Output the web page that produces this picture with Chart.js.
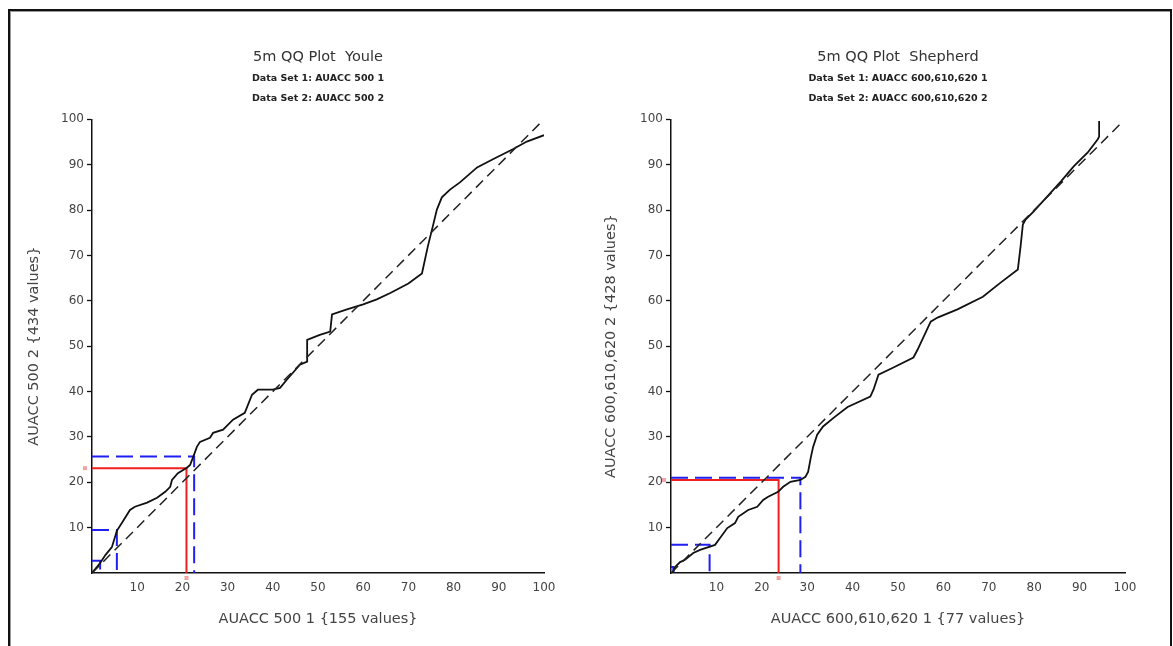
<!DOCTYPE html>
<html>
<head>
<meta charset="utf-8">
<script src="https://cdn.jsdelivr.net/npm/chart.js@4.4.1/dist/chart.umd.min.js"></script>
<style>
  body { margin: 0; background: #fff; }
  .frame { position: absolute; left: 8px; top: 9px; width: 1160px; height: 700px; border: 2px solid #111; box-shadow: inset 1px 1px 0 #999; }
  .plot { position: absolute; top: 0; }
</style>
</head>
<body>
<div class="frame"></div>
<canvas id="youle" class="plot" style="left:0" width="580" height="646"></canvas>
<canvas id="shepherd" class="plot" style="left:580px" width="593" height="646"></canvas>
<script>
const FONT = '"DejaVu Sans", Verdana, sans-serif';

// axis ticks
const tickValues = [10, 20, 30, 40, 50, 60, 70, 80, 90, 100];

// 1:1 reference line
const diagX = [0, 99];
const diagY = [0, 99];

// ── Youle ──
const youleX = [0, 0.8, 1.8, 3, 4.4, 5.5, 6.6, 8.4, 9.5, 12.2, 14.4, 16.2, 17.3, 17.7, 19, 21, 21.7, 22.4, 23.2, 23.9,
  26.1, 26.8, 29, 31.2, 33.8, 35.4, 36.7, 40, 41.6, 43.1, 46, 47.6, 47.6, 50.4, 52.7, 53.1, 56.4, 60, 63, 66, 70, 73,
  74.3, 75.4, 76.3, 77.4, 79.2, 81.4, 85.2, 88.7, 93.1, 96.2, 100];
const youleY = [0, 1, 2.2, 4, 5.7, 9.3, 11, 13.9, 14.6, 15.5, 16.6, 17.9, 19, 20.5, 22, 23.2, 23.8, 25.6, 27.8, 28.9,
  29.8, 30.9, 31.6, 33.8, 35.3, 39.3, 40.4, 40.4, 40.8, 42.6, 45.9, 46.6, 51.4, 52.5, 53.2, 57, 58.1, 59.2, 60.3, 61.7, 63.8, 66,
  72, 76.4, 80.1, 82.8, 84.5, 86.1, 89.4, 91.2, 93.4, 95.1, 96.5];
// percentile guides: [x, y] corners
const youleBlue = [[1.8, 2.7], [5.5, 9.5], [22.6, 25.7]];
const youleRed = [20.9, 23.1];

// ── Shepherd ──
const shepX = [0.4, 0.9, 2, 3.1, 4.9, 6.4, 9.7, 10.8, 12.4, 14.1, 14.8, 17, 19, 20.3, 21.4, 23.6, 24.7, 26.3, 28.5, 29.6,
  30.2, 30.8, 31.3, 32.2, 33.5, 35.8, 38.9, 43.9, 44.6, 45.7, 49, 53.4, 54.3, 57.2, 58.7, 63.1, 68.7, 72.6, 76.4, 77,
  77.5, 78.1, 79.9, 83.7, 85.9, 88.7, 91.8, 94, 94.3, 94.3];
const shepY = [0, 1.3, 2.4, 2.9, 4.4, 5.1, 6.2, 7.7, 9.9, 11, 12.4, 13.9, 14.6, 16.1, 16.8, 17.9, 19, 20.1, 20.5, 21.2,
  22.3, 25.5, 27.8, 30.5, 32.3, 34.2, 36.6, 38.9, 40.4, 43.7, 45.3, 47.5, 49.2, 55.4, 56.3, 58.1, 60.9, 64, 66.9, 72,
  76.8, 77.9, 79.7, 83.9, 86.3, 89.6, 92.7, 95.6, 96.2, 99.6];
const shepBlue = [[0.5, 1.3], [8.5, 6.2], [28.5, 21.0]];
const shepRed = [23.7, 20.5];

function pts(xs, ys) {
  return xs.map((x, i) => ({ x: x, y: ys[i] }));
}

function guide(c, color, dash) {
  // from the y axis across to the point, then down to the x axis
  return {
    data: [{ x: 0, y: c[1] }, { x: c[0], y: c[1] }, { x: c[0], y: 0 }],
    showLine: true, borderColor: color, borderWidth: 2, borderDash: dash,
    pointRadius: 0, tension: 0
  };
}

// small pink ticks just outside the axes where the red guide ends
const redMarks = {
  id: 'redMarks',
  afterDatasetsDraw(chart, args, opts) {
    const { ctx, scales: { x, y } } = chart;
    ctx.save();
    ctx.fillStyle = '#f3a3a3';
    ctx.fillRect(x.left - 9, y.getPixelForValue(opts.red[1]) - 2, 4, 4);
    ctx.fillRect(x.getPixelForValue(opts.red[0]) - 2, y.bottom + 3, 4, 4);
    ctx.restore();
  }
};

function qqChart(id, o) {
  const datasets = [
    { data: pts(diagX, diagY), showLine: true, borderColor: '#222', borderWidth: 1.5, borderDash: [10, 6], pointRadius: 0 },
    { data: pts(o.xs, o.ys), showLine: true, borderColor: '#111', borderWidth: 1.8, pointRadius: 0, tension: 0 }
  ];
  o.blue.forEach(c => datasets.push(guide(c, '#1f1ff2', [17, 7])));
  datasets.push(guide(o.red, '#f21f1f', []));

  const tickCb = v => (v === 0 ? null : v);
  new Chart(document.getElementById(id), {
    type: 'scatter',
    data: { datasets: datasets },
    plugins: [redMarks],
    options: {
      responsive: false,
      animation: false,
      layout: { padding: { left: 0, right: o.padRight, top: 0, bottom: 0 } },
      plugins: {
        legend: { display: false },
        tooltip: { enabled: false },
        redMarks: { red: o.red },
        title: {
          display: true, text: o.title, fullSize: false, color: '#333',
          font: { family: FONT, size: 14.5, weight: 'normal', lineHeight: 1.2 },
          padding: { top: 49, bottom: 0 }
        },
        subtitle: {
          display: true, text: o.sub, fullSize: false, color: '#222',
          font: { family: FONT, size: 9.5, weight: 'bold', lineHeight: 2.1 },
          padding: { top: 2, bottom: 11 }
        }
      },
      scales: {
        x: {
          type: 'linear', min: 0, max: 100,
          afterBuildTicks: s => { s.ticks = tickValues.map(v => ({ value: v })); },
          afterFit: s => { s.height = 73; },
          border: { color: '#111', width: 1.5 },
          grid: { drawOnChartArea: false, drawTicks: false },
          ticks: { callback: tickCb, color: '#444', padding: 8, font: { family: FONT, size: 12 } },
          title: { display: true, text: o.xTitle, color: '#444', font: { family: FONT, size: 14.5, lineHeight: 1.2 }, padding: { top: 0, bottom: 18 } }
        },
        y: {
          type: 'linear', min: 0, max: 100,
          afterBuildTicks: s => { s.ticks = tickValues.map(v => ({ value: v })); },
          afterFit: s => { s.width = o.yWidth; },
          border: { color: '#111', width: 1.5 },
          grid: { drawOnChartArea: false, drawTicks: true, tickLength: 5, color: '#111', tickWidth: 1.3 },
          ticks: { callback: tickCb, color: '#444', padding: 3, font: { family: FONT, size: 12 } },
          title: { display: true, text: o.yTitle, color: '#444', font: { family: FONT, size: 14.5, lineHeight: 1.2 }, padding: { top: o.yTitlePad, bottom: 0 } }
        }
      }
    }
  });
}

qqChart('youle', {
  xs: youleX, ys: youleY, blue: youleBlue, red: youleRed,
  title: '5m QQ Plot  Youle',
  sub: ['Data Set 1: AUACC 500 1', 'Data Set 2: AUACC 500 2'],
  xTitle: 'AUACC 500 1 {155 values}', yTitle: 'AUACC 500 2 {434 values}',
  yWidth: 92, padRight: 36, yTitlePad: 26
});

qqChart('shepherd', {
  xs: shepX, ys: shepY, blue: shepBlue, red: shepRed,
  title: '5m QQ Plot  Shepherd',
  sub: ['Data Set 1: AUACC 600,610,620 1', 'Data Set 2: AUACC 600,610,620 2'],
  xTitle: 'AUACC 600,610,620 1 {77 values}', yTitle: 'AUACC 600,610,620 2 {428 values}',
  yWidth: 91, padRight: 48, yTitlePad: 23
});
</script>
</body>
</html>
